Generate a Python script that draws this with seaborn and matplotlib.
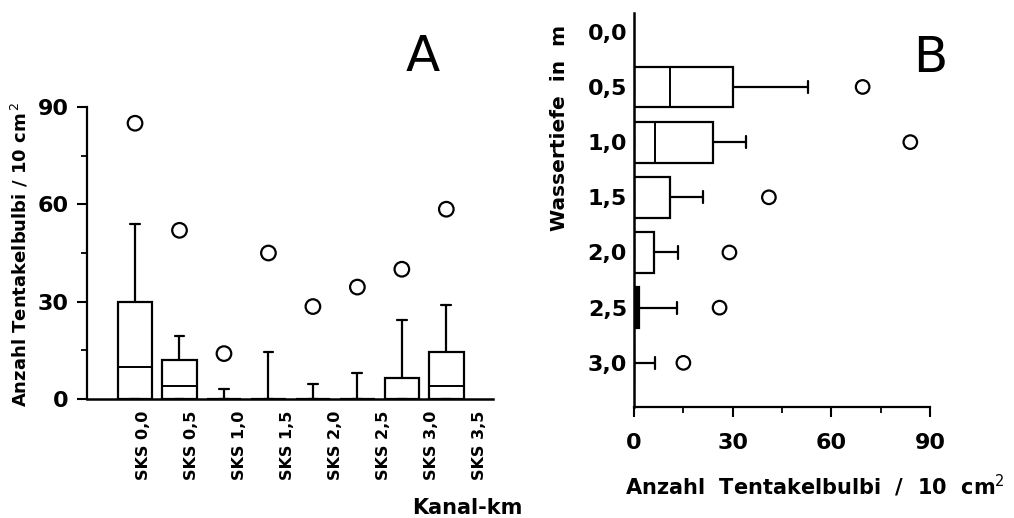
import matplotlib
matplotlib.use("Agg")
import matplotlib.pyplot as plt
import numpy as np
import pandas as pd
import seaborn as sns

# Panel A: boxplot stats per channel kilometre
km_labels = ["SKS 0,0", "SKS 0,5", "SKS 1,0", "SKS 1,5", "SKS 2,0", "SKS 2,5", "SKS 3,0", "SKS 3,5"]
a_q1 = [0, 0, 0, 0, 0, 0, 0, 0]
a_med = [10, 4, 0, 0, 0, 0, 0, 4]
a_q3 = [30, 12, 0, 0, 0, 0, 6.5, 14.5]
a_whishi = [54, 19.5, 3, 14.5, 4.5, 8, 24.5, 29]
a_outlier = [85, 52, 14, 45, 28.5, 34.5, 40, 58.5]

# Panel B: boxplot stats per water depth
depth_labels = ["0,0", "0,5", "1,0", "1,5", "2,0", "2,5", "3,0"]
b_q1 = [np.nan, 0, 0, 0, 0, 0, 0]
b_med = [np.nan, 11, 6.5, 0, 0, 0, 0]
b_q3 = [np.nan, 30, 24, 11, 6, 1.5, 0]
b_whishi = [np.nan, 53, 34, 21, 13.5, 13, 6.5]
b_outlier = [np.nan, 69.5, 84, 41, 29, 26, 15]

x_label_a = "Kanal-km"
y_label_a = "Anzahl Tentakelbulbi / 10 cm$^{\\,2}$"
y_label_b = "Wassertiefe  in  m"
x_label_b = "Anzahl  Tentakelbulbi  /  10  cm$^2$"


def make_stats(q1, med, q3, whishi):
    stats = []
    for lo, m, hi, wh in zip(q1, med, q3, whishi):
        if np.isnan(wh):
            continue
        stats.append(dict(whislo=lo, q1=lo, med=m, q3=hi, whishi=wh, fliers=[]))
    return stats


sns.set_theme(style="ticks")
plt.rcParams["font.family"] = ["DejaVu Sans"]
plt.rcParams.update({
    "text.color": "black",
    "axes.labelcolor": "black",
    "axes.edgecolor": "black",
    "xtick.color": "black",
    "ytick.color": "black",
})

fig = plt.figure(figsize=(10.14, 5.18), dpi=100)
ax_a = fig.add_axes([0.0858, 0.2297, 0.4004, 0.5637])
ax_b = fig.add_axes([0.6253, 0.2143, 0.2919, 0.7606])

line = dict(color="black", linewidth=1.6)
box_kw = dict(
    showfliers=False,
    patch_artist=True,
    boxprops=dict(facecolor="white", edgecolor="black", linewidth=1.6),
    medianprops=dict(color="black", linewidth=1.4),
    whiskerprops=line,
    capprops=line,
)

# --- Panel A
pos_a = np.arange(len(km_labels))
ax_a.bxp(make_stats(a_q1, a_med, a_q3, a_whishi), positions=pos_a, widths=0.78,
         capwidths=0.22, **box_kw)
df_a = pd.DataFrame({"pos": pos_a, "val": a_outlier})
sns.scatterplot(data=df_a, x="pos", y="val", ax=ax_a, marker="o", s=110,
                facecolor="none", edgecolor="black", linewidth=1.6, legend=False)
ax_a.set_xlim(-1.08, 8.05)
ax_a.set_ylim(0, 90)
ax_a.set_yticks([0, 30, 60, 90])
ax_a.set_yticks([15, 45, 75], minor=True)
ax_a.set_xticks(pos_a * 1.08 + 0.18)
ax_a.set_xticklabels(km_labels, rotation=90, fontsize=11.5, fontweight="bold")
for t in ax_a.get_yticklabels():
    t.set_fontweight("bold")
ax_a.tick_params(axis="x", length=0, pad=8)
ax_a.tick_params(axis="y", which="major", length=7, width=1.5, labelsize=16, pad=6)
ax_a.tick_params(axis="y", which="minor", length=4, width=1.3)
for s in ["top", "right"]:
    ax_a.spines[s].set_visible(False)
ax_a.spines["left"].set_linewidth(1.6)
ax_a.spines["bottom"].set_linewidth(1.8)
ax_a.set_xlabel("")
ax_a.set_ylabel(y_label_a, fontsize=13, fontweight="bold")
ax_a.yaxis.set_label_coords(-0.14, 0.493)
fig.text(0.461, 0.019, x_label_a, fontsize=15, fontweight="bold", ha="center", va="center")
fig.text(0.417, 0.89, "A", fontsize=36, ha="center", va="center")

# --- Panel B
pos_b = np.arange(len(depth_labels))
keep = ~np.isnan(b_whishi)
parts_b = ax_b.bxp(make_stats(b_q1, b_med, b_q3, b_whishi), positions=pos_b[keep], widths=0.74,
                   capwidths=0.22, orientation="horizontal", **box_kw)
df_b = pd.DataFrame({"pos": pos_b, "val": b_outlier}).dropna()
sns.scatterplot(data=df_b, x="val", y="pos", ax=ax_b, marker="o", s=95,
                facecolor="none", edgecolor="black", linewidth=1.6, legend=False)
ax_b.set_xlim(0, 90)
ax_b.set_ylim(6.8, -0.34)
ax_b.set_yticks(pos_b)
ax_b.set_yticklabels(depth_labels, fontsize=16, fontweight="bold")
ax_b.set_xticks([0, 30, 60, 90])
ax_b.set_xticks([15, 45, 75], minor=True)
for t in ax_b.get_xticklabels():
    t.set_fontweight("bold")
ax_b.tick_params(axis="y", length=0, pad=5)
ax_b.tick_params(axis="x", which="major", length=7, width=1.5, labelsize=16, pad=12)
ax_b.tick_params(axis="x", which="minor", length=4, width=1.3)
for s in ["top", "right"]:
    ax_b.spines[s].set_visible(False)
ax_b.spines["left"].set_linewidth(1.8)
ax_b.spines["bottom"].set_linewidth(1.6)
ax_b.set_xlabel(x_label_b, fontsize=15, fontweight="bold")
ax_b.set_ylabel(y_label_b, fontsize=14.5, fontweight="bold")
ax_b.xaxis.set_label_coords(0.611, -0.168)
ax_b.yaxis.set_label_coords(-0.22, 0.708)
fig.text(0.917, 0.888, "B", fontsize=36, ha="center", va="center")

# the 2,5 box is so thin it prints as a solid bar
kept_labels = [lab for lab, k in zip(depth_labels, keep) if k]
parts_b["boxes"][kept_labels.index("2,5")].set_facecolor("black")

fig.savefig("out.png", dpi=100)
